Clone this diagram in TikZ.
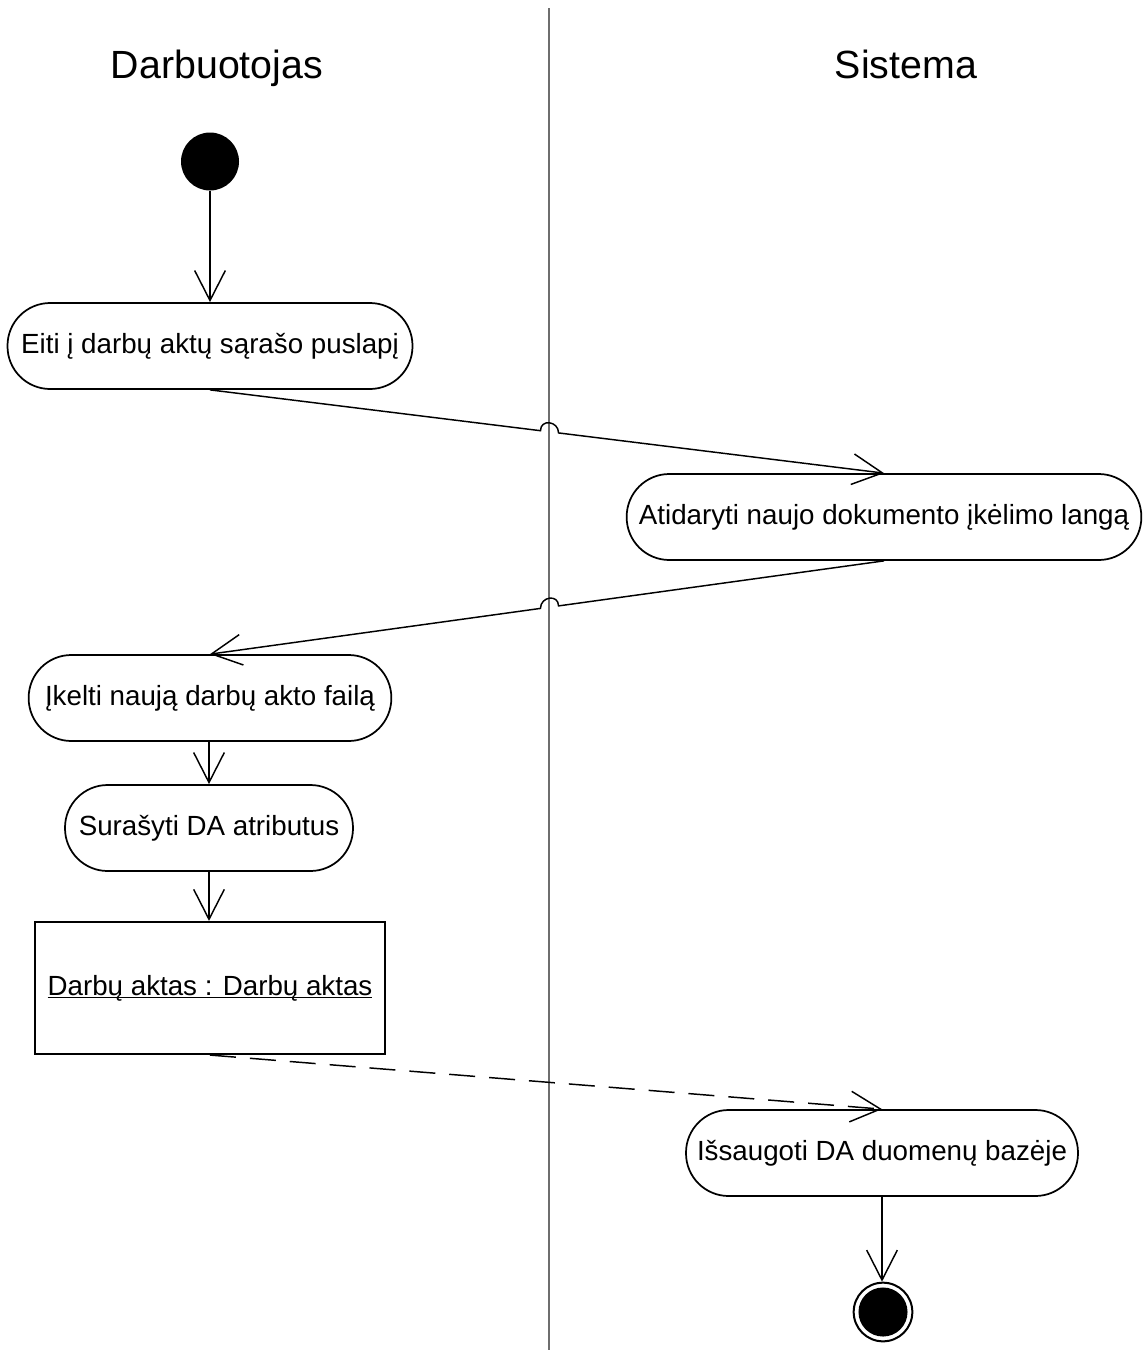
\documentclass[tikz,border=0pt]{standalone}
\usepackage{fontspec}
\setmainfont{Liberation Sans}
\usetikzlibrary{arrows.meta,calc}
\definecolor{lanegray}{RGB}{110,110,110}
% underline drawn just under the baseline, crossing descenders
\newcommand\objname[1]{\setbox0\hbox{#1}\rlap{\rule[-2.4pt]{\wd0}{1.1pt}}\box0}
\begin{document}
\begin{tikzpicture}[x=0.75pt,y=-0.75pt,
  action/.style={draw,line width=1.3pt,rectangle,rounded corners=32pt,
    minimum height=64.5pt,inner sep=0pt,
    font=\fontsize{20.8}{24}\selectfont},
  objbox/.style={draw,line width=1.6pt,rectangle,minimum width=262pt,
    minimum height=99pt,inner sep=0pt,font=\fontsize{20.8}{24}\selectfont},
  lanetitle/.style={anchor=base,inner sep=0pt,font=\fontsize{29.5}{34}\selectfont},
  flow/.style={line width=1.1pt,-{Straight Barb[length=22.5pt,width=23pt]}},
  objflow/.style={flow,dash pattern=on 19.5pt off 10.5pt}]
\useasboundingbox (0,0) rectangle (1143,1356);

% swimlane divider and titles
\coordinate (laneTop) at (549,8);
\coordinate (laneBot) at (549,1350);
\draw[lanegray,line width=1.3pt] (laneTop) -- (laneBot);
\node[lanetitle] (t1) at (217,78) {Darbuotojas};
\node[lanetitle] (t2) at (906,78) {Sistema};

% initial and final nodes
\node[circle,fill=black,minimum size=43.5pt,inner sep=0pt] (start) at (210,161.5) {};
\node[circle,draw,line width=1.5pt,minimum size=44pt,inner sep=0pt] (end) at (883,1312) {};
\fill (end.center) circle (18.4pt);

% actions
\node[action,minimum width=303.75pt] (n1) at (210,346) {Eiti į darbų aktų sąrašo puslapį};
\node[action,minimum width=386pt] (n2) at (884,517) {Atidaryti naujo dokumento įkėlimo langą};
\node[action,minimum width=272pt] (n3) at (210,698) {Įkelti naują darbų akto failą};
\node[action,minimum width=216pt] (n4) at (209,828) {Surašyti DA atributus};
\node[objbox] (obj) at (210,988) {\objname{Darbų aktas : Darbų aktas}};
\node[action,minimum width=294pt] (n5) at (882,1153) {Išsaugoti DA duomenų bazėje};

% control flow
\draw[flow] (start) -- (n1.north);
\draw[flow] (n1.south)
  -- ($(n1.south)!0.4903!(n2.north)$)
  .. controls +(0,-12) and +(0,-12) .. ($(n1.south)!0.5171!(n2.north)$)
  -- (n2.north);
\draw[flow] (n2.south)
  -- ($(n2.south)!0.4829!(n3.north)$)
  .. controls +(0,-12) and +(0,-12) .. ($(n2.south)!0.5097!(n3.north)$)
  -- (n3.north);
\draw[flow] (n3.south -| n4.north) -- (n4.north);
\draw[flow] (n4.south) -- (obj.north -| n4.south);
\draw[objflow] (obj.south) -- (n5.north);
\draw[flow] (n5.south) -- (end.north -| n5.south);
\end{tikzpicture}
\end{document}
